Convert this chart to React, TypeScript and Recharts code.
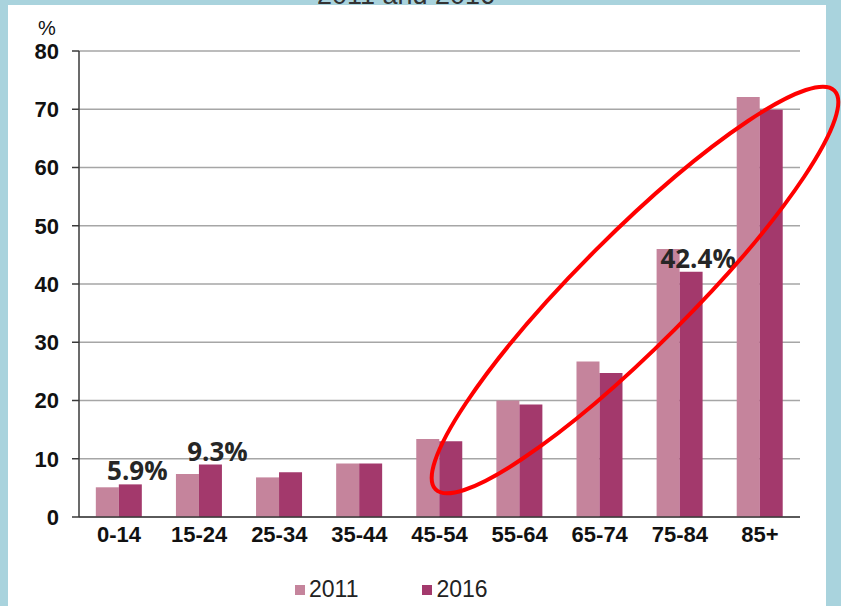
import {
  BarChart,
  Bar,
  XAxis,
  YAxis,
  CartesianGrid,
  Legend,
  LabelList,
} from "recharts";

const ageGroups = ["0-14", "15-24", "25-34", "35-44", "45-54", "55-64", "65-74", "75-84", "85+"];
const share2011 = [5.1, 7.4, 6.8, 9.2, 13.4, 20.0, 26.7, 46.0, 72.1];
const share2016 = [5.6, 9.0, 7.7, 9.2, 13.0, 19.3, 24.7, 42.1, 69.9];
const callouts = ["5.9%", "9.3%", "", "", "", "", "", "42.4%", ""];
const yTicks = [0, 10, 20, 30, 40, 50, 60, 70, 80];
const bandEdges = [0, 1, 2, 3, 4, 5, 6, 7, 8, 9];

const data = ageGroups.map((name, i) => ({
  name,
  y2011: share2011[i],
  y2016: share2016[i],
  note: callouts[i],
}));

const ARIAL = "'Liberation Sans', Arial, sans-serif";
const AXIS = "#3a3a3a";

const renderCallout = (props: any) => {
  const { x, y, width, value } = props;
  if (!value) return null;
  return (
    <text
      x={Number(x) + Number(width) / 2 + 7}
      y={Number(y) - 4}
      textAnchor="middle"
      fontFamily="'Open Sans', sans-serif"
      fontWeight={700}
      fontSize={26}
      fill="#262626"
    >
      {value}
    </text>
  );
};

const renderLegend = (props: any) => (
  <div style={{ display: "flex", gap: 64, fontFamily: ARIAL, fontSize: 23, color: "#222", lineHeight: "25px" }}>
    {(props.payload || []).map((entry: any) => (
      <div key={entry.value} style={{ display: "flex", alignItems: "center" }}>
        <span style={{ width: 10, height: 10, background: entry.color, marginRight: 4, display: "inline-block" }} />
        {entry.value}
      </div>
    ))}
  </div>
);

export default function App() {
  return (
    <div
      style={{
        position: "absolute",
        left: 0,
        top: 0,
        width: 841,
        height: 606,
        background: "#a9d3dd",
        overflow: "hidden",
      }}
    >
      <div style={{ position: "absolute", left: 8, top: 5, width: 818, height: 610, background: "#fff" }} />
      <div style={{ position: "absolute", left: 0, top: 0 }}>
        <BarChart
          width={841}
          height={606}
          data={data}
          margin={{ top: 51, right: 41, left: 19, bottom: 59 }}
          barCategoryGap="21%"
          barGap={0}
        >
          <CartesianGrid vertical={false} stroke="#a6a6a6" strokeWidth={1.5} />
          <XAxis
            xAxisId="edges"
            type="number"
            scale="linear"
            domain={[0, 9]}
            ticks={bandEdges}
            allowDataOverflow
            height={0}
            axisLine={false}
            tickLine={{ stroke: AXIS, strokeWidth: 1.5 }}
            tickSize={6}
            tick={() => <g />}
          />
          <XAxis
            dataKey="name"
            height={30}
            axisLine={{ stroke: AXIS, strokeWidth: 1.5 }}
            tickLine={false}
            tickSize={0}
            tickMargin={9}
            interval={0}
            tick={{ fill: "#111", fontSize: 22, fontWeight: 700, fontFamily: ARIAL }}
          />
          <YAxis
            width={60}
            domain={[0, 80]}
            ticks={yTicks}
            interval={0}
            axisLine={{ stroke: AXIS, strokeWidth: 1.5 }}
            tickLine={{ stroke: AXIS, strokeWidth: 1.5 }}
            tickSize={7}
            tickMargin={13}
            tick={{ fill: "#111", fontSize: 22, fontWeight: 700, fontFamily: ARIAL }}
          />
          <Legend
            layout="horizontal"
            verticalAlign="middle"
            align="center"
            wrapperStyle={{ left: 295, top: 577, width: 320 }}
            content={renderLegend}
          />
          <Bar dataKey="y2011" name="2011" fill="#c5849c" isAnimationActive={false} />
          <Bar dataKey="y2016" name="2016" fill="#a3396c" isAnimationActive={false}>
            <LabelList dataKey="note" content={renderCallout} />
          </Bar>
        </BarChart>
      </div>
      <svg
        width={841}
        height={606}
        style={{ position: "absolute", left: 0, top: 0, pointerEvents: "none" }}
      >
        <text x={406} y={4} textAnchor="middle" fontFamily={ARIAL} fontSize={27} fill="#333">
          2011 and 2016
        </text>
        <text x={47} y={35} textAnchor="middle" fontFamily={ARIAL} fontSize={20} fill="#111">
          %
        </text>
        <ellipse
          cx={635}
          cy={290}
          rx={282}
          ry={56}
          transform="rotate(-45 635 290)"
          fill="none"
          stroke="#ff0000"
          strokeWidth={4}
        />
      </svg>
    </div>
  );
}
